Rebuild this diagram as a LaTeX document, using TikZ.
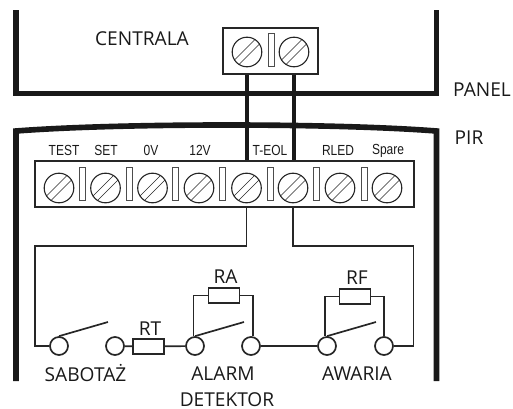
\documentclass[tikz,border=0pt]{standalone}
\usepackage{fontspec}
\setmainfont{Open Sans}
\newfontfamily\labelfont{Liberation Sans}
\tikzset{
    screw/.style = {circle, draw = black!85, line width = 0.8pt, minimum size = 0.74cm, inner sep = 0pt,
        path picture = {
            \draw [line width = 0.4pt] (path picture bounding box.215) -- (path picture bounding box.55);
            \draw [line width = 0.4pt] (path picture bounding box.235) -- (path picture bounding box.35);
        }},
    divider/.style = {rectangle, draw = black!70, line width = 0.5pt, minimum width = 0.15cm, minimum height = 0.82cm, inner sep = 0pt},
    strip/.style = {rectangle, draw = black!85, line width = 0.9pt, inner sep = 0pt},
    contact/.style = {circle, draw = black!85, fill = white, line width = 1.2pt, minimum size = 0.45cm, inner sep = 0pt},
    resistor/.style = {rectangle, draw = black!85, fill = white, line width = 1.2pt, minimum width = 0.77cm, minimum height = 0.37cm, inner sep = 0pt},
    wire/.style = {draw = black!85, line width = 1.2pt},
    bus/.style = {draw = black!90, line width = 2.8pt},
    case/.style = {draw = black!90, line width = 4pt},
    caption/.style = {text = black!90, font = \fontsize{13.6}{15}\selectfont, inner sep = 0pt},
    pinname/.style = {text = black!90, font = \labelfont\fontsize{10.4}{12}\selectfont, inner sep = 0pt, xscale = 0.82}
}
\begin{document}
\begin{tikzpicture}[x = 0.025cm, y = -0.025cm]
    \useasboundingbox (0, 0) rectangle (513, 408);

    % Panel and detector housings
    \draw [case] (16, 10) -- (16, 93.5) -- (436.5, 93.5) -- (436.5, 10);
    \draw [case] (16, 381) -- (16, 131) .. controls (120, 123) and (333, 123) .. (436.5, 131) -- (436.5, 381);

    % Panel terminal
    \node [strip, minimum width = 2.37cm, minimum height = 1.15cm] (PanelBlock) at (270.5, 51) {};
    \node [screw] (PanelScrewA) at (247, 52) {};
    \node [screw] (PanelScrewB) at (294, 52) {};
    \node [divider] (PanelDivider) at (271, 50) {};

    % Detector terminals
    \node [strip, minimum width = 9.47cm, minimum height = 1.15cm] (Strip) at (224.5, 184) {};
    \foreach \name/\x in {1/59, 2/105.5, 3/152.5, 4/199, 5/246.5, 6/293, 7/340, 8/387}
        \node [screw] (Screw\name) at (\x, 188) {};
    \foreach \name/\x in {1/82.5, 2/129, 3/175, 4/222, 5/270, 6/316, 7/364}
        \node [divider] (Divider\name) at (\x, 183.5) {};

    % Pin names
    \foreach \name/\x/\txt in {Test/64/TEST, Set/106/SET, Zero/151/0V, Twelve/200/12V, Eol/270/T-EOL, Rled/338/RLED, Spare/388/Spare}
        \node [pinname] (Pin\name) at (\x, 150.5) {\txt};

    % Loop between the two blocks
    \draw [bus] (PanelBlock.south -| PanelScrewA) -- (Strip.north -| PanelScrewA);
    \draw [bus] (PanelBlock.south -| PanelScrewB) -- (Strip.north -| PanelScrewB);

    % Contacts
    \node [contact] (SabotageA) at (59, 346) {};
    \node [contact] (SabotageB) at (115, 346) {};
    \node [contact] (AlarmA) at (195, 346) {};
    \node [contact] (AlarmB) at (251, 346) {};
    \node [contact] (FaultA) at (327, 346) {};
    \node [contact] (FaultB) at (384, 346) {};

    % Resistors
    \node [resistor] (RT) at (148.5, 346.5) {};
    \node [resistor] (RA) at (224, 295.5) {};
    \node [resistor] (RF) at (355, 296.5) {};

    % Inner wiring
    \coordinate (LeftTurn) at (35, 246);
    \coordinate (RightTurn) at (413.5, 246);
    \draw [wire] (Strip.south -| Screw5) |- (LeftTurn) |- (SabotageA.west);
    \draw [wire] (Strip.south -| Screw6) |- (RightTurn) |- (FaultB.east);
    \draw [wire] (SabotageB) -- (RT);
    \draw [wire] (RT) -- (AlarmA);
    \draw [wire] (AlarmB) -- (FaultA);

    % Parallel resistors
    \draw [wire] (RA.west) -| (AlarmA.north -| 193.5, 0);
    \draw [wire] (RA.east) -| (AlarmB.north -| 253, 0);
    \draw [wire] (RF.west) -| (FaultA.north -| 325, 0);
    \draw [wire] (RF.east) -| (FaultB.north);

    % Switch arms
    \coordinate (SabotageArm) at (108, 322);
    \coordinate (AlarmArm) at (244, 322);
    \coordinate (FaultArm) at (376, 322);
    \draw [wire] (SabotageA.north) -- (SabotageArm);
    \draw [wire] (AlarmA.north) -- (AlarmArm);
    \draw [wire] (FaultA.north) -- (FaultArm);

    % Names
    \node [caption] (Central) at (142, 39) {CENTRALA};
    \node [caption] (Panel) at (482, 90) {PANEL};
    \node [caption] (Pir) at (469, 138) {PIR};
    \node [caption] (RtName) at (150, 329) {RT};
    \node [caption] (RaName) at (225.5, 277) {RA};
    \node [caption] (RfName) at (357, 278) {RF};
    \node [caption] (Sabotage) at (85.5, 373) {SABOTAŻ};
    \node [caption] (Alarm) at (223, 374) {ALARM};
    \node [caption] (Fault) at (357, 374) {AWARIA};
    \node [caption] (Detector) at (227, 399.5) {DETEKTOR};
\end{tikzpicture}
\end{document}
